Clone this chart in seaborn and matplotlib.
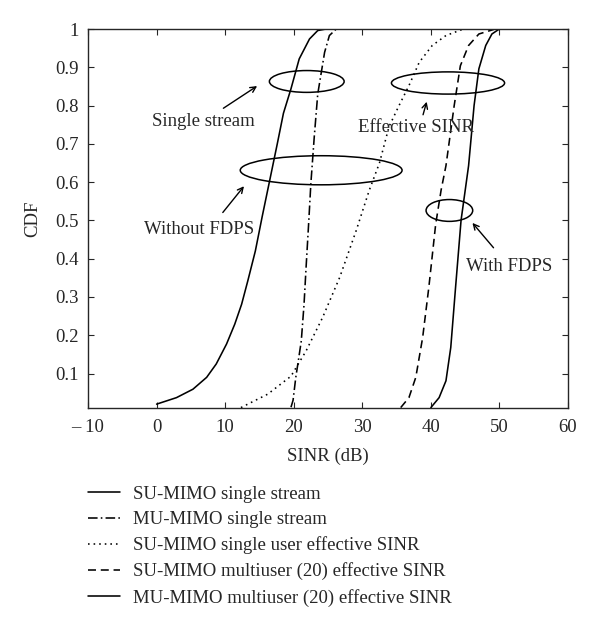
import numpy as np
import pandas as pd
import matplotlib
matplotlib.use("Agg")
import matplotlib.pyplot as plt
import seaborn as sns
from matplotlib.patches import Ellipse
from matplotlib.ticker import FixedLocator, FuncFormatter

# curves: SINR (dB) and CDF
su_single_x = [0.0, 2.9, 5.3, 7.3, 8.7, 10.2, 11.4, 12.4, 13.3, 14.4, 15.4, 16.5, 17.6, 18.5, 19.6, 20.8, 22.3, 23.5, 24.7]
su_single_y = [0.020, 0.037, 0.059, 0.090, 0.125, 0.177, 0.229, 0.281, 0.342, 0.42, 0.51, 0.605, 0.70, 0.78, 0.844, 0.922, 0.974, 0.996, 1.0]

mu_single_x = [19.6, 19.9, 20.3, 20.6, 21.1, 21.5, 21.8, 22.2, 22.5, 23.0, 23.5, 24.5, 25.2, 26.2]
mu_single_y = [0.012, 0.03, 0.09, 0.125, 0.185, 0.28, 0.377, 0.5, 0.597, 0.72, 0.83, 0.939, 0.983, 1.0]

su_eff_x = [12.3, 16.2, 19.6, 21.8, 24.2, 26.7, 29.1, 31.0, 32.5, 33.9, 35.3, 36.8, 38.3, 40.2, 42.2, 44.6]
su_eff_y = [0.011, 0.046, 0.093, 0.159, 0.246, 0.351, 0.473, 0.578, 0.650, 0.745, 0.798, 0.852, 0.913, 0.957, 0.983, 0.999]

su_multi_x = [35.6, 36.8, 37.8, 38.8, 39.7, 40.7, 41.5, 42.2, 43.4, 44.3, 45.5, 47.0, 49.2]
su_multi_y = [0.011, 0.037, 0.090, 0.194, 0.325, 0.49, 0.58, 0.643, 0.80, 0.904, 0.957, 0.987, 0.999]

mu_multi_x = [40.0, 41.2, 42.2, 42.9, 43.6, 44.4, 45.5, 46.3, 47.0, 48.0, 48.9, 49.9]
mu_multi_y = [0.011, 0.037, 0.081, 0.168, 0.325, 0.50, 0.643, 0.80, 0.896, 0.957, 0.987, 0.999]

labels = ["SU-MIMO single stream",
          "MU-MIMO single stream",
          "SU-MIMO single user effective SINR",
          "SU-MIMO multiuser (20) effective SINR",
          "MU-MIMO multiuser (20) effective SINR"]
styles = ["-", (0, (6, 2, 1, 2)), (0, (1, 2.5)), (0, (5, 3)), "-"]
series = [(su_single_x, su_single_y), (mu_single_x, mu_single_y), (su_eff_x, su_eff_y),
          (su_multi_x, su_multi_y), (mu_multi_x, mu_multi_y)]

sns.set_style("ticks")
plt.rcParams["font.family"] = ["Liberation Serif", "DejaVu Serif"]

fs = 13.5
fig = plt.figure(figsize=(6, 6.24), dpi=100)
ax = fig.add_axes([0.1467, 0.3462, 0.80, 0.6073])

for (x, y), lab, ls in zip(series, labels, styles):
    df = pd.DataFrame({"SINR": x, "CDF": y})
    sns.lineplot(data=df, x="SINR", y="CDF", ax=ax, color="black", lw=1.15,
                 linestyle=ls, label=lab, sort=False, estimator=None)

ax.set_xlim(-10, 60)
ax.set_ylim(0.01, 1)
ax.xaxis.set_major_locator(FixedLocator([-10, 0, 10, 20, 30, 40, 50, 60]))
ax.xaxis.set_major_formatter(FuncFormatter(lambda v, p: "\u2013 10" if v < 0 else f"{v:g}"))
ax.yaxis.set_major_locator(FixedLocator([0.1, 0.2, 0.3, 0.4, 0.5, 0.6, 0.7, 0.8, 0.9, 1.0]))
ax.yaxis.set_major_formatter(FuncFormatter(lambda v, p: f"{v:g}"))
ax.tick_params(direction="in", top=True, right=True, labelsize=fs, length=4, width=0.8)
ax.tick_params(axis="x", pad=8)
ax.tick_params(axis="y", pad=7)
for s in ax.spines.values():
    s.set_linewidth(1.0)
ax.set_xlabel("SINR (dB)", fontsize=fs, labelpad=8)
ax.set_ylabel("CDF", fontsize=fs, labelpad=10)

# ellipses marking groups of curves
ell_cx = [21.9, 24.0, 42.5, 42.7]
ell_cy = [0.863, 0.631, 0.859, 0.526]
ell_w = [10.9, 23.6, 16.5, 6.8]
ell_h = [0.057, 0.076, 0.058, 0.057]
for cx, cy, w, h in zip(ell_cx, ell_cy, ell_w, ell_h):
    ax.add_patch(Ellipse((cx, cy), w, h, fill=False, ec="black", lw=1.1))

notes = ["Single stream", "Without FDPS", "Effective SINR", "With FDPS"]
note_xy = [(-0.6, 0.758), (-1.8, 0.476), (29.4, 0.742), (45.1, 0.379)]
arrow_from = [(9.4, 0.789), (9.4, 0.515), (38.75, 0.769), (49.4, 0.423)]
arrow_to = [(15.0, 0.855), (13.0, 0.595), (39.5, 0.817), (45.8, 0.499)]
for t, xy in zip(notes, note_xy):
    ax.text(xy[0], xy[1], t, fontsize=fs, ha="left", va="center")
for a, b in zip(arrow_from, arrow_to):
    ax.annotate("", xy=b, xytext=a,
                arrowprops=dict(arrowstyle="->", color="black", lw=1.0))

ax.legend(loc="upper left", bbox_to_anchor=(0.0, -0.205), frameon=False,
          fontsize=fs, handlelength=1.7, handletextpad=0.7,
          labelspacing=0.44, borderaxespad=0, borderpad=0)

fig.savefig("out.png", dpi=100)
